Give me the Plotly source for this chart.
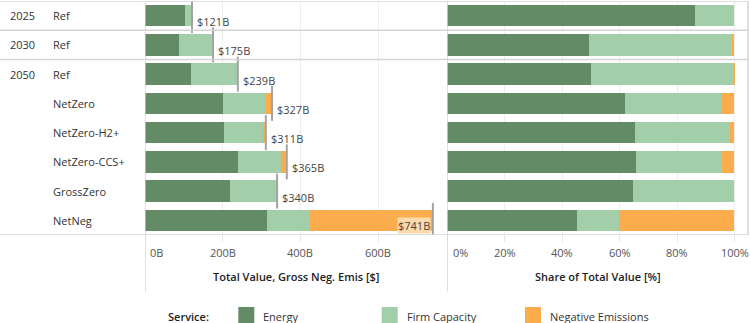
import plotly.graph_objects as go

# ---------------- data ----------------
years = ["2025", "2030", "2050", "", "", "", "", ""]
scenarios = ["Ref", "Ref", "Ref", "NetZero", "NetZero-H2+", "NetZero-CCS+", "GrossZero", "NetNeg"]
services = ["Energy", "Firm Capacity", "Negative Emissions"]
service_colors = ["#638b66", "#a2ceaa", "#fbad4e"]

# Total value, gross negative emissions [$B]
energy_val = [104, 86.5, 119, 202, 203, 240, 218, 313]
firm_val = [17, 87.5, 119, 110, 103, 110, 122, 112]
neg_val = [0, 1, 1, 15, 5, 15, 0, 316]
totals = [121, 175, 239, 327, 311, 365, 340, 741]

# Share of total value [fraction]
energy_share = [0.863, 0.495, 0.501, 0.620, 0.654, 0.659, 0.646, 0.454]
firm_share = [0.137, 0.500, 0.495, 0.335, 0.330, 0.299, 0.354, 0.145]
neg_share = [0.000, 0.005, 0.004, 0.045, 0.016, 0.042, 0.000, 0.401]

left_ticks = [0, 200, 400, 600]
left_ticktext = ["0B", "200B", "400B", "600B"]
right_ticks = [0, 0.2, 0.4, 0.6, 0.8, 1.0]
right_ticktext = ["0%", "20%", "40%", "60%", "80%", "100%"]

left_title = "Total Value, Gross Neg. Emis [$]"
right_title = "Share of Total Value [%]"
legend_title = "Service:"

# ---------------- layout helpers ----------------
W, H = 750, 323
FONT = "Open Sans"
TXT = "#333333"
TICK = "#555555"
def px(x):
    return x / W
def py(y):
    return 1 - y / H

rows = list(range(len(scenarios)))
BW = 0.735

fig = go.Figure()
left_vals = [energy_val, firm_val, neg_val]
right_vals = [energy_share, firm_share, neg_share]
for name, col, lv, rv in zip(services, service_colors, left_vals, right_vals):
    fig.add_trace(go.Bar(y=rows, x=lv, orientation="h", name=name, marker_color=col,
                         marker_line_width=0, width=BW, xaxis="x", yaxis="y",
                         showlegend=False, hoverinfo="x+name"))
    fig.add_trace(go.Bar(y=rows, x=rv, orientation="h", name=name, marker_color=col,
                         marker_line_width=0, width=BW, xaxis="x2", yaxis="y",
                         showlegend=False, hoverinfo="x+name"))

# total reference marks
fig.add_trace(go.Scatter(y=rows, x=totals, mode="markers", xaxis="x", yaxis="y",
                         marker=dict(symbol="line-ns", size=25, line=dict(width=2, color="#a3a3a3")),
                         showlegend=False, hoverinfo="x"))

annotations = []
# value labels
for i, t in enumerate(totals):
    label = f"${t:.0f}B"
    if t > 700:
        annotations.append(dict(x=t, y=i, xref="x", yref="y", text=label, showarrow=False,
                                xanchor="right", yanchor="middle", xshift=-2, yshift=-5,
                                bgcolor="#fdd9ab", borderpad=0,
                                font=dict(family=FONT, size=11, color="#444444")))
    else:
        annotations.append(dict(x=t, y=i, xref="x", yref="y", text=label, showarrow=False,
                                xanchor="left", yanchor="middle", xshift=3, yshift=-6,
                                font=dict(family=FONT, size=11, color="#444444")))

# row headers
for i, (yr, sc) in enumerate(zip(years, scenarios)):
    if yr:
        annotations.append(dict(x=px(7.5), y=i, xref="paper", yref="y", text=yr, showarrow=False,
                                xanchor="left", yanchor="middle",
                                font=dict(family=FONT, size=11, color=TXT)))
    annotations.append(dict(x=px(51), y=i, xref="paper", yref="y", text=sc, showarrow=False,
                            xanchor="left", yanchor="middle",
                            font=dict(family=FONT, size=11, color=TXT)))

# tick labels
for axis, vals, texts, shift in (("x", left_ticks, left_ticktext, 3), ("x2", right_ticks, right_ticktext, 4)):
    for j, (v, t) in enumerate(zip(vals, texts)):
        annotations.append(dict(x=v, y=py(252), xref=axis, yref="paper", text=t, showarrow=False,
                                xanchor="left" if j == 0 else "center", yanchor="middle",
                                xshift=shift if j == 0 else 0,
                                font=dict(family=FONT, size=11, color=TICK)))

# axis titles
for tx, title in ((296, left_title), (598, right_title)):
    annotations.append(dict(x=px(tx), y=py(276), xref="paper", yref="paper", text=title,
                            showarrow=False, xanchor="center", yanchor="middle",
                            font=dict(family=FONT, size=11, color="#222222", weight=600)))

# legend
shapes = []
annotations.append(dict(x=px(211), y=py(316), xref="paper", yref="paper", text=legend_title,
                        showarrow=False, xanchor="right", yanchor="middle",
                        font=dict(family=FONT, size=11, color="#222222", weight=600)))
legend_x = [238.3, 381.7, 525]
for lx, name, col in zip(legend_x, services, service_colors):
    shapes.append(dict(type="rect", xref="paper", yref="paper", x0=px(lx), x1=px(lx + 16),
                       y0=py(323), y1=py(307), fillcolor=col, line_width=0))
    annotations.append(dict(x=px(lx + 23), y=py(316), xref="paper", yref="paper", text=name,
                            showarrow=False, xanchor="left", yanchor="middle",
                            font=dict(family=FONT, size=11, color=TXT)))

SEP = "#d4d4d4"
# frame / separators
for yv in (-0.5, 0.5, 1.5, 7.5):
    shapes.append(dict(type="line", xref="paper", yref="y", x0=0, x1=px(748), y0=yv, y1=yv,
                       line=dict(color=SEP, width=1.5)))
# zero lines extending into axis area
for axis in ("x", "x2"):
    shapes.append(dict(type="line", xref=axis, yref="paper", x0=0, x1=0, y0=py(292), y1=py(1),
                       line=dict(color="#cfcfcf", width=1.2)))
# right border
shapes.append(dict(type="line", xref="paper", yref="paper", x0=px(748), x1=px(748), y0=py(235), y1=py(1),
                   line=dict(color=SEP, width=1.5)))

fig.update_layout(
    width=W, height=H, margin=dict(l=0, r=0, t=0, b=0),
    paper_bgcolor="white", plot_bgcolor="white",
    barmode="stack", bargap=0,
    showlegend=False,
    font=dict(family=FONT, size=11, color=TXT),
    xaxis=dict(domain=[px(145), px(447)], range=[0, (447 - 145) / 0.3885],
               tickvals=left_ticks, showticklabels=False, showgrid=True, gridcolor="#eeeeee",
               gridwidth=1, zeroline=False, ticks="outside", ticklen=6, tickcolor="#e6e6e6",
               showline=False, anchor="y", fixedrange=True),
    xaxis2=dict(domain=[px(447.3), px(748)], range=[0, (748 - 447.3) / 287.3],
                tickvals=right_ticks, showticklabels=False, showgrid=True, gridcolor="#eeeeee",
                gridwidth=1, zeroline=False, ticks="outside", ticklen=6, tickcolor="#e6e6e6",
                showline=False, anchor="y", fixedrange=True),
    yaxis=dict(domain=[py(235), py(1)], range=[7.5, -0.5], showticklabels=False,
               showgrid=False, zeroline=False, showline=False, ticks="", fixedrange=True),
    annotations=annotations,
    shapes=shapes,
)

fig.write_html("out.html")
